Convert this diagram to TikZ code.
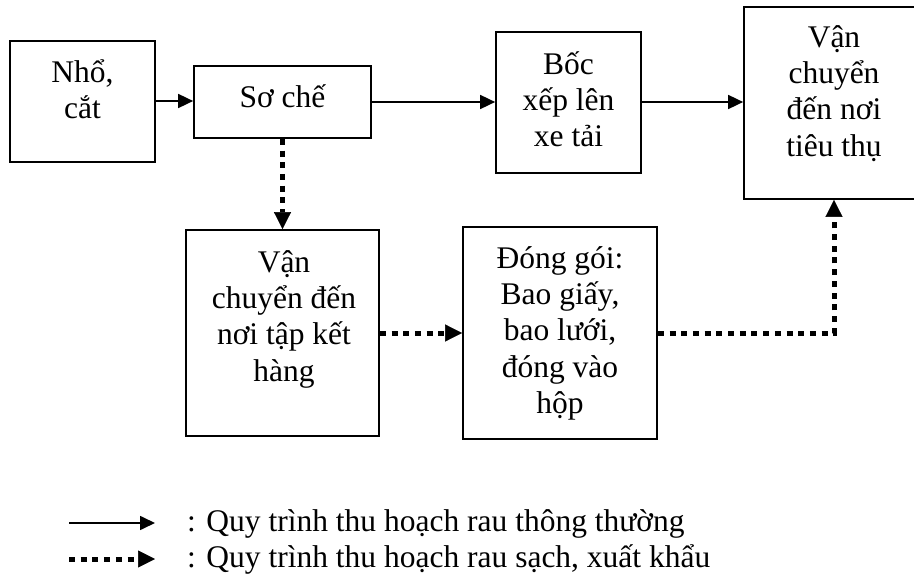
\documentclass[tikz,border=0pt]{standalone}
\usepackage{fontspec}
\setmainfont{Liberation Serif}
\usetikzlibrary{arrows.meta}
\newcommand\mytop{\rule{0pt}{28pt}}
\begin{document}
\begin{tikzpicture}[x=1pt,y=-1pt,
  box/.style={draw, line width=1.7pt, inner sep=0pt},
  txt/.style={align=center, anchor=north, inner sep=0pt, font=\fontsize{31.5}{36.3}\selectfont},
  solidarr/.style={line width=1.7pt, -{Triangle[length=15pt,width=14pt]}},
  dotarr/.style={line width=5pt, dash pattern=on 6pt off 5.7pt, -{Triangle[length=17pt,width=17pt,line width=0.5pt]}},
  legtxt/.style={anchor=base west, inner sep=0pt, font=\fontsize{31.5}{36.3}\selectfont}]
\useasboundingbox (0,0) rectangle (914,575);
% boxes
\node[box, minimum width=145pt, minimum height=121pt] (A) at (82.5,101.5) {};
\node[box, minimum width=177pt, minimum height=72pt] (B) at (282.5,102) {};
\node[box, minimum width=145pt, minimum height=141pt] (C) at (568.5,102.5) {};
\node[box, minimum width=180pt, minimum height=192pt] (D) at (834,103) {};
\node[box, minimum width=193pt, minimum height=206pt] (E) at (282.5,333) {};
\node[box, minimum width=194pt, minimum height=212pt] (F) at (560,333) {};
% texts
\node[txt] (tA) at (82.5,54) {\mytop Nhổ,\\cắt};
\node[txt] (tB) at (282.5,79) {\mytop Sơ chế};
\node[txt] (tC) at (568.5,46) {\mytop Bốc\\xếp lên\\xe tải};
\node[txt] (tD) at (834,19) {\mytop Vận\\chuyển\\đến nơi\\tiêu thụ};
\node[txt] (tE) at (284,244) {\mytop Vận\\chuyển đến\\nơi tập kết\\hàng};
\node[txt] (tF) at (560,240) {\mytop Đóng gói:\\Bao giấy,\\bao lưới,\\đóng vào\\hộp};
% connectors
\draw[solidarr] (A.east |- 0,101) -- (B.west |- 0,101);
\draw[solidarr] (B.east |- 0,102) -- (C.west |- 0,102);
\draw[solidarr] (C.east |- 0,102) -- (D.west |- 0,102);
\draw[dotarr] (B.south) -- (E.north);
\draw[dotarr] (E.east) -- (F.west);
\draw[dotarr] (F.east) -| (D.south);
% legend
\coordinate (l1s) at (69,523);
\coordinate (l1e) at (155,523);
\coordinate (l2s) at (69,559);
\coordinate (l2e) at (155,559);
\draw[solidarr] (l1s) -- (l1e);
\draw[dotarr] (l2s) -- (l2e);
\node[legtxt] (lt1) at (187,531) {: Quy trình thu hoạch rau thông thường};
\node[legtxt] (lt2) at (187,567) {: Quy trình thu hoạch rau sạch, xuất khẩu};
\end{tikzpicture}
\end{document}
